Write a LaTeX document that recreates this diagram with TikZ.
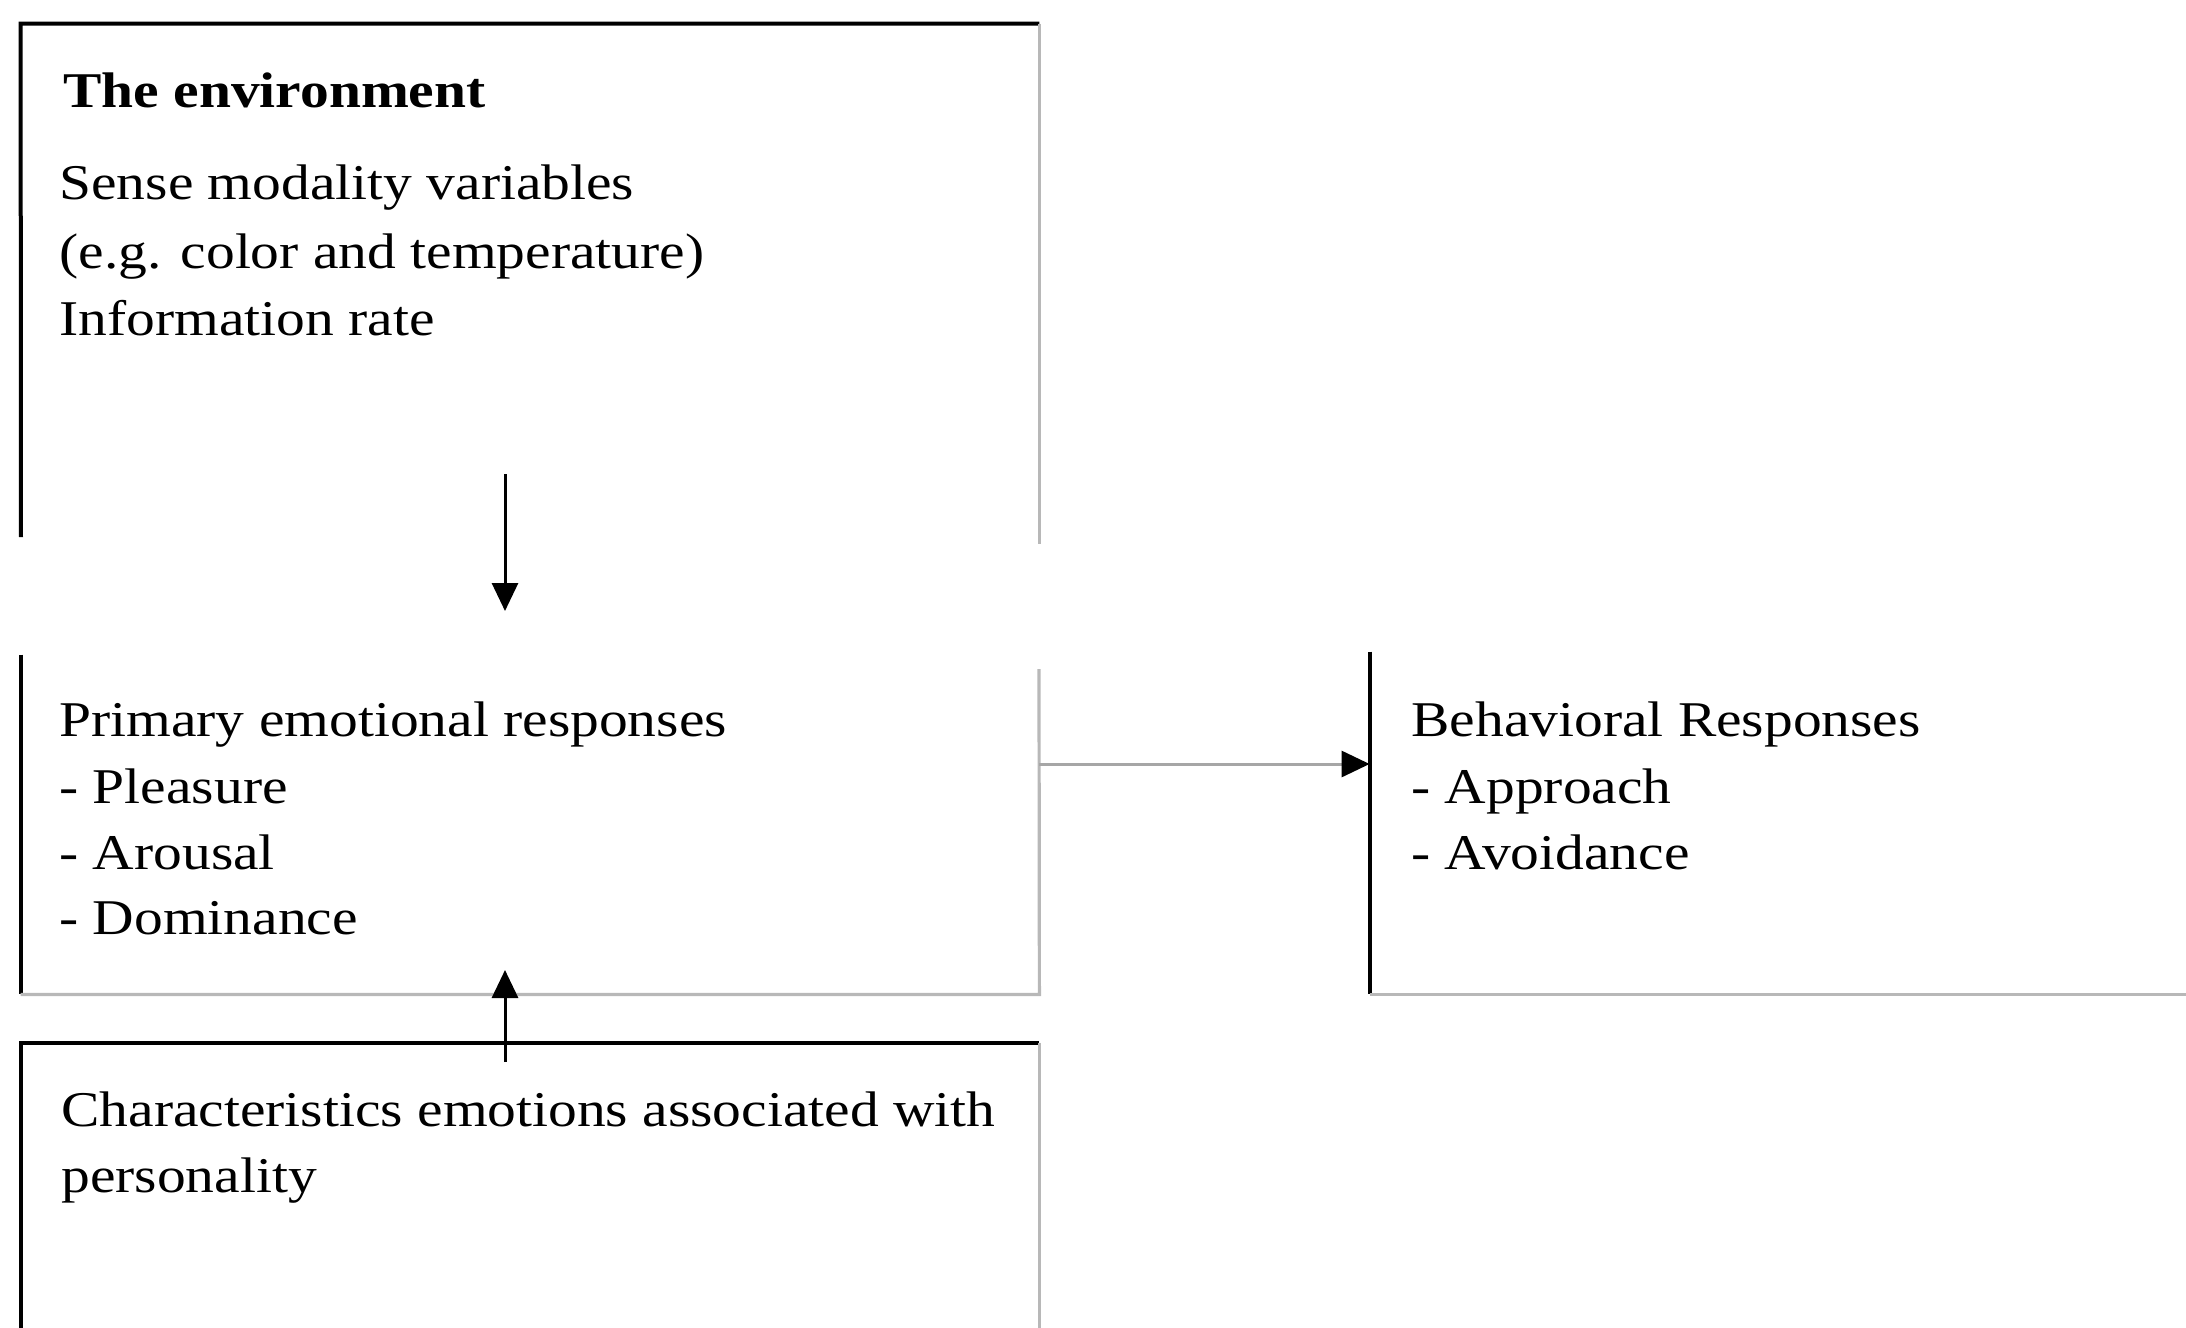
\documentclass[tikz,border=0pt]{standalone}
\usepackage{fontspec}
\setmainfont{Liberation Serif}[FakeStretch=1.15]
\usetikzlibrary{arrows.meta,fit}
\begin{document}
\begin{tikzpicture}[x=0.5pt,y=-0.5pt,
  blk/.style={line width=2pt,black},
  gry/.style={line width=1.6pt,color=black!28},
  txt/.style={anchor=base west,inner sep=0pt,font=\fontsize{25}{33}\selectfont},
  arr/.style={-{Triangle[length=14pt,width=13pt,color=black]},line width=1.5pt},
  region/.style={inner sep=0pt,draw=none}]
\useasboundingbox (0,0) rectangle (2186,1328);
% regions of the boxes
\coordinate (envA) at (21,24);   \coordinate (envB) at (1039,544);
\coordinate (priA) at (21,655);  \coordinate (priB) at (1039,994);
\coordinate (chaA) at (21,1043); \coordinate (chaB) at (1039,1328);
\coordinate (behA) at (1370,652); \coordinate (behB) at (2186,994);
\node[region,fit=(envA)(envB)] (env) {};
\node[region,fit=(priA)(priB)] (pri) {};
\node[region,fit=(chaA)(chaB)] (cha) {};
\node[region,fit=(behA)(behB)] (beh) {};
% environment box
\draw[blk] (21,537) -- (env.north west) -- (env.north east);
\draw[gry] (env.north east) -- (env.south east);
% primary box
\draw[blk] (pri.north west) -- (pri.south west);
\draw[gry] (1039,669) -- (pri.south east) -- (pri.south west);
% characteristics box
\draw[blk] (cha.south west) -- (cha.north west) -- (cha.north east);
\draw[gry] (cha.north east) -- (cha.south east);
% behavioral box
\draw[blk] (beh.north west) -- (beh.south west);
\draw[gry] (beh.south west) -- (beh.south east);
% texts
\node[txt,font=\fontsize{25}{33}\selectfont\bfseries] (t1) at (63,107) {The environment};
\node[txt] (t2) at (59,199) {Sense modality variables};
\node[txt] (t3) at (59,268) {(e.g. color and temperature)};
\node[txt] (t4) at (59,335) {Information rate};
\node[txt] (p1) at (59,736) {Primary emotional responses};
\node[txt] (p2) at (59,803) {- Pleasure};
\node[txt] (p3) at (59,869) {- Arousal};
\node[txt] (p4) at (59,934) {- Dominance};
\node[txt] (b1) at (1411,736) {Behavioral Responses};
\node[txt] (b2) at (1411,803) {- Approach};
\node[txt] (b3) at (1411,869) {- Avoidance};
\node[txt] (c1) at (61,1126) {Characteristics emotions associated with};
\node[txt] (c2) at (61,1192) {personality};
% connectors
\coordinate (a1s) at (505,474); \coordinate (a1e) at (505,611);
\coordinate (a2s) at (505,1062); \coordinate (a2e) at (505,970);
\coordinate (a3s) at (pri.east |- 0,764); \coordinate (a3e) at (beh.west |- 0,764);
\draw[arr] (a1s) -- (a1e);
\draw[arr] (a2s) -- (a2e);
\draw[arr,color=black!35] (a3s) -- (a3e);
\end{tikzpicture}
\end{document}
